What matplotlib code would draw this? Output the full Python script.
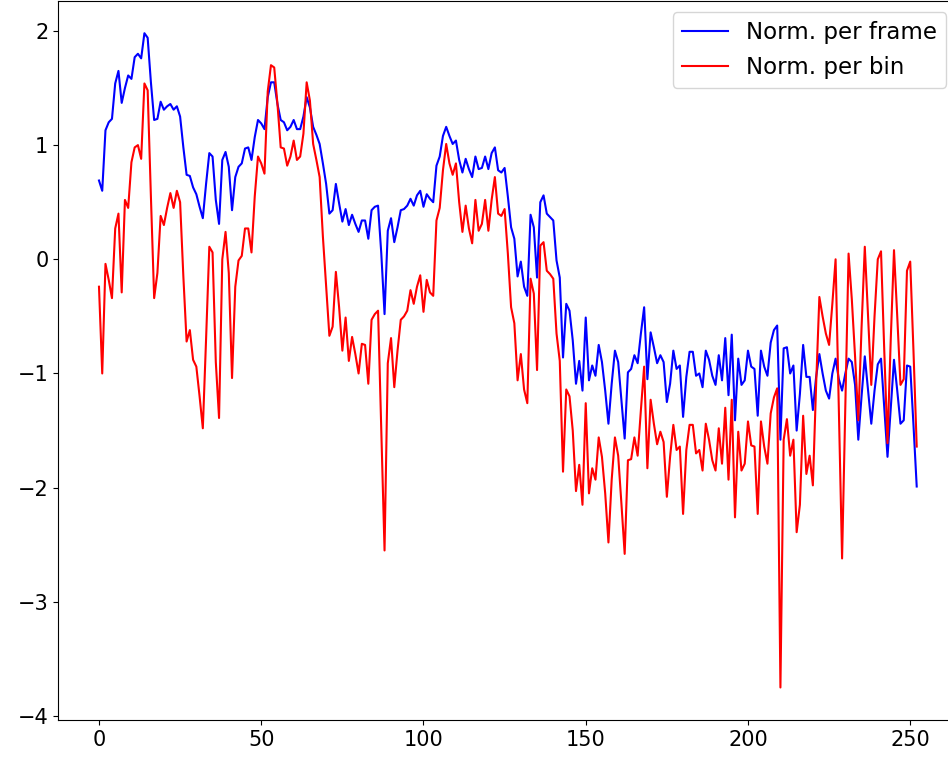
import matplotlib
matplotlib.use("Agg")
import matplotlib.pyplot as plt
import numpy as np

# Normalised values, one sample per frame index
per_frame = [
    0.69, 0.60, 1.13, 1.20, 1.23, 1.54, 1.65, 1.37, 1.50, 1.61,
    1.58, 1.77, 1.80, 1.76, 1.98, 1.94, 1.55, 1.22, 1.23, 1.38,
    1.31, 1.34, 1.36, 1.31, 1.34, 1.25, 0.98, 0.74, 0.73, 0.63,
    0.57, 0.46, 0.36, 0.66, 0.93, 0.90, 0.52, 0.31, 0.87, 0.94,
    0.81, 0.43, 0.72, 0.81, 0.84, 0.97, 0.98, 0.87, 1.07, 1.22,
    1.19, 1.14, 1.42, 1.55, 1.55, 1.36, 1.22, 1.20, 1.13, 1.16,
    1.22, 1.14, 1.14, 1.25, 1.42, 1.33, 1.16, 1.09, 1.01, 0.84,
    0.66, 0.40, 0.43, 0.66, 0.49, 0.33, 0.44, 0.30, 0.39, 0.31,
    0.24, 0.34, 0.34, 0.18, 0.43, 0.46, 0.47, 0.05, -0.48, 0.25,
    0.36, 0.15, 0.28, 0.43, 0.44, 0.47, 0.53, 0.47, 0.56, 0.60,
    0.46, 0.57, 0.53, 0.50, 0.82, 0.90, 1.08, 1.16, 1.08, 1.01,
    1.04, 0.87, 0.76, 0.88, 0.79, 0.72, 0.90, 0.79, 0.80, 0.90,
    0.79, 0.93, 0.98, 0.78, 0.76, 0.80, 0.55, 0.28, 0.18, -0.15,
    -0.02, -0.24, -0.32, 0.39, 0.28, -0.16, 0.50, 0.56, 0.40, 0.37,
    0.34, -0.01, -0.16, -0.86, -0.39, -0.45, -0.71, -1.09, -0.89, -1.15,
    -0.51, -1.06, -0.93, -1.02, -0.75, -0.90, -1.15, -1.44, -1.09, -0.80,
    -0.90, -1.23, -1.57, -0.99, -0.96, -0.84, -0.91, -0.65, -0.42, -1.05,
    -0.64, -0.77, -0.91, -0.84, -0.90, -1.25, -1.09, -0.80, -0.96, -0.93,
    -1.38, -1.03, -0.81, -0.81, -1.02, -1.00, -1.12, -0.80, -0.88, -1.02,
    -1.10, -0.84, -1.06, -0.69, -1.19, -0.66, -1.41, -0.87, -1.10, -1.06,
    -0.80, -0.94, -0.96, -1.37, -0.80, -0.94, -1.02, -0.73, -0.62, -0.58,
    -1.58, -0.78, -0.77, -1.00, -0.93, -1.50, -1.18, -0.75, -1.03, -1.03,
    -1.32, -1.03, -0.83, -1.00, -1.15, -1.22, -1.00, -0.87, -1.05, -1.15,
    -1.00, -0.87, -0.90, -1.10, -1.58, -1.20, -0.85, -1.15, -1.44, -1.15,
    -0.92, -0.87, -1.30, -1.73, -1.30, -0.88, -1.15, -1.44, -1.41, -0.93,
    -0.94, -1.45, -1.99,
]

per_bin = [
    -0.24, -1.00, -0.04, -0.18, -0.34, 0.27, 0.40, -0.29, 0.52, 0.45,
    0.85, 0.98, 1.00, 0.88, 1.54, 1.48, 0.55, -0.34, -0.12, 0.38,
    0.30, 0.45, 0.58, 0.45, 0.60, 0.50, -0.15, -0.72, -0.62, -0.88,
    -0.94, -1.20, -1.48, -0.70, 0.11, 0.06, -0.90, -1.39, 0.00, 0.24,
    -0.12, -1.04, -0.24, -0.01, 0.03, 0.27, 0.27, 0.06, 0.55, 0.90,
    0.84, 0.75, 1.47, 1.70, 1.68, 1.36, 0.98, 0.97, 0.82, 0.90,
    1.04, 0.87, 0.90, 1.10, 1.55, 1.39, 1.01, 0.87, 0.72, 0.20,
    -0.24, -0.67, -0.59, -0.11, -0.42, -0.80, -0.51, -0.89, -0.68, -0.83,
    -1.00, -0.74, -0.75, -1.09, -0.53, -0.48, -0.45, -1.50, -2.55, -0.91,
    -0.69, -1.12, -0.80, -0.53, -0.50, -0.45, -0.27, -0.39, -0.24, -0.14,
    -0.46, -0.18, -0.29, -0.32, 0.34, 0.45, 0.78, 1.01, 0.84, 0.74,
    0.84, 0.50, 0.24, 0.47, 0.27, 0.14, 0.52, 0.25, 0.31, 0.52,
    0.25, 0.52, 0.72, 0.40, 0.38, 0.44, 0.05, -0.42, -0.56, -1.06,
    -0.83, -1.14, -1.26, -0.17, -0.30, -0.97, 0.12, 0.15, -0.10, -0.13,
    -0.17, -0.65, -0.89, -1.86, -1.14, -1.20, -1.50, -2.03, -1.80, -2.15,
    -1.26, -2.05, -1.83, -1.93, -1.56, -1.73, -2.05, -2.48, -1.93, -1.56,
    -1.72, -2.14, -2.58, -1.76, -1.75, -1.56, -1.72, -1.32, -0.94, -1.83,
    -1.23, -1.44, -1.62, -1.51, -1.60, -2.08, -1.73, -1.45, -1.67, -1.64,
    -2.23, -1.67, -1.45, -1.45, -1.70, -1.67, -1.85, -1.44, -1.58, -1.76,
    -1.85, -1.48, -1.79, -1.30, -1.93, -1.23, -2.26, -1.51, -1.85, -1.79,
    -1.42, -1.63, -1.64, -2.23, -1.42, -1.64, -1.79, -1.35, -1.21, -1.13,
    -3.75, -1.58, -1.40, -1.72, -1.58, -2.39, -2.15, -1.37, -1.88, -1.72,
    -1.98, -1.10, -0.33, -0.50, -0.65, -0.75, -0.39, 0.00, -1.30, -2.62,
    -1.30, 0.05, -0.35, -0.85, -1.41, -0.60, 0.11, -0.50, -1.10, -0.50,
    0.00, 0.07, -0.80, -1.61, -0.70, 0.08, -0.50, -1.10, -1.05, -0.10,
    -0.02, -0.80, -1.64,
]

frames = np.arange(len(per_frame))

plt.rcParams["font.size"] = 15

W, H = 948, 757
fig = plt.figure(figsize=(W / 100, H / 100), dpi=100)
ax = fig.add_axes([58.1 / W, 1 - 720.2 / H, 899.5 / W, 719.7 / H])
ax.plot(frames, per_frame, color="blue", label="Norm. per frame")
ax.plot(frames, per_bin, color="red", label="Norm. per bin")
ax.legend(loc="upper right", fontsize=16.5)
fig.savefig("out.png", dpi=100)
